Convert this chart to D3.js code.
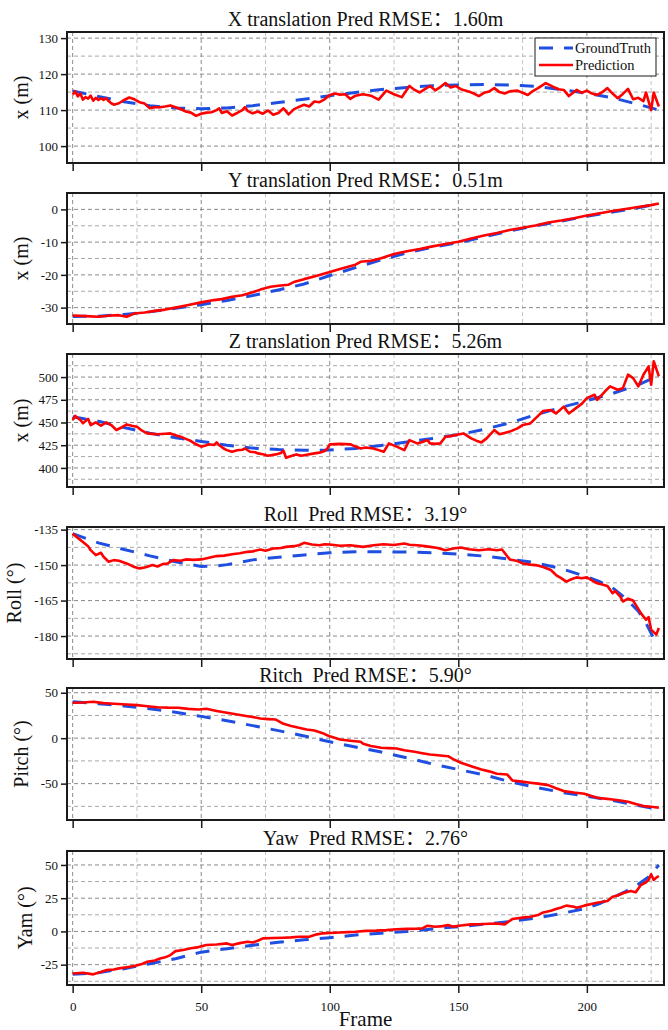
<!DOCTYPE html>
<html>
<head>
<meta charset="utf-8">
<script src="https://cdn.jsdelivr.net/npm/d3@7"></script>
<style>
    body { margin: 0; background: #fff; }
    svg text { font-family: "Liberation Serif", "Times New Roman", "Noto Sans CJK SC", serif; fill: #111; }
</style>
</head>
<body>
<div id="chart"></div>
<script>
// ---- data: [frame, value] ----
const frameTicks = [0, 50, 100, 150, 200];
const frameMinor = [25, 75, 125, 175, 225];

const xGT = [[0,115.3],[10,113.8],[20,112.3],[30,111.2],[40,110.6],[50,110.4],[60,110.6],[70,111.2],[80,112.1],[90,113.0],[100,114.0],[110,114.9],[120,115.7],[130,116.3],[140,116.8],[150,117.0],[160,117.1],[170,117.0],[180,116.6],[190,115.7],[200,114.7],[210,113.4],[220,111.6],[228,110.0]];
const xPred = [[0,114.3],[1,115.2],[2,113.8],[3,114.6],[4,112.9],[5,113.6],[6,113.2],[7,114.0],[8,112.6],[9,113.4],[10,112.8],[11,113.3],[12,112.8],[13,113.3],[14,112.5],[15,111.9],[16,111.5],[18,111.9],[20,112.8],[22,113.5],[24,113.0],[26,112.2],[28,111.8],[30,110.5],[32,110.8],[34,110.8],[36,111.0],[38,111.3],[40,110.8],[42,110.3],[44,109.6],[46,109.3],[48,108.4],[50,109.0],[52,109.3],[54,109.4],[56,110.0],[57,110.5],[58,109.2],[60,109.7],[62,108.5],[64,109.2],[66,110.0],[67,110.8],[68,109.8],[70,109.1],[72,109.6],[74,109.0],[76,109.9],[78,108.7],[80,109.2],[82,110.5],[84,108.8],[86,110.2],[88,110.9],[90,111.5],[92,111.0],[94,112.4],[96,112.2],[98,113.0],[100,114.2],[102,114.6],[104,114.3],[106,114.4],[108,113.1],[110,114.0],[113,114.4],[116,114.0],[119,112.9],[122,115.4],[125,114.4],[128,113.6],[131,116.7],[133,115.6],[135,114.9],[137,115.8],[139,116.7],[141,115.5],[143,116.4],[145,117.5],[147,116.3],[149,116.7],[151,115.8],[154,115.2],[156,114.6],[158,113.9],[160,114.8],[162,115.2],[164,116.1],[166,115.0],[168,114.6],[170,115.2],[173,115.4],[175,114.8],[177,114.2],[179,115.3],[181,116.1],[184,117.5],[186,116.8],[187,116.4],[189,115.8],[191,115.6],[193,113.9],[196,115.6],[198,114.8],[200,115.4],[202,114.6],[204,114.2],[206,115.0],[208,116.1],[210,114.6],[212,113.3],[214,114.5],[216,115.9],[218,113.0],[220,113.4],[222,112.5],[223,114.9],[225,110.0],[226,114.9],[228,111.0]];

const yGT = [[0,-32.7],[10,-32.6],[20,-32.1],[30,-31.3],[40,-30.2],[50,-29.1],[60,-27.8],[70,-26.3],[80,-24.6],[90,-22.8],[100,-20.2],[110,-17.8],[120,-15.4],[130,-13.3],[140,-11.5],[150,-10.2],[160,-8.4],[170,-6.6],[180,-5.0],[190,-3.6],[200,-2.1],[210,-0.8],[220,0.5],[228,1.7]];
const yPred = [[0,-32.4],[5,-32.6],[10,-32.8],[15,-32.4],[18,-32.3],[21,-32.8],[24,-31.8],[28,-31.5],[32,-31.0],[36,-30.6],[40,-30.0],[45,-29.2],[50,-28.4],[55,-27.7],[58,-27.4],[62,-26.7],[66,-26.2],[70,-25.3],[73,-24.5],[77,-23.6],[80,-23.3],[84,-23.0],[86,-22.2],[90,-21.3],[95,-20.3],[100,-19.1],[105,-18.0],[110,-16.9],[112,-16.0],[116,-15.7],[120,-14.9],[125,-13.6],[130,-12.8],[135,-12.1],[140,-11.3],[145,-10.6],[150,-9.9],[155,-8.9],[160,-8.0],[165,-7.2],[170,-6.3],[175,-5.6],[180,-4.9],[185,-4.0],[190,-3.4],[195,-2.7],[200,-1.9],[205,-1.2],[210,-0.5],[215,0.1],[220,0.7],[225,1.3],[228,1.8]];

const zGT = [[0,456.4],[10,451.3],[20,444.5],[30,438.3],[40,433.2],[50,429.2],[60,425.0],[70,421.8],[80,420.2],[90,419.5],[100,419.6],[110,421.5],[120,424.8],[130,428.5],[140,432.5],[150,436.5],[160,442.5],[170,449.5],[180,458.5],[190,466.6],[200,474.0],[210,482.0],[220,491.5],[228,502.0]];
const zPred = [[0,452.8],[1,457.2],[3,452.8],[4,449.1],[6,454.0],[7,447.2],[9,450.1],[11,446.4],[13,450.0],[15,447.2],[17,441.7],[19,444.5],[21,447.9],[23,446.5],[25,445.4],[27,441.0],[29,438.0],[31,437.5],[33,437.0],[36,437.6],[38,438.0],[40,436.0],[42,434.4],[44,432.0],[46,429.6],[48,426.0],[50,423.4],[52,425.0],[53,426.0],[55,425.2],[56,428.1],[57,425.0],[59,421.0],[60,419.6],[62,417.8],[64,419.4],[66,420.0],[67,421.4],[69,417.8],[71,417.3],[72,416.0],[74,415.0],[76,413.4],[78,414.5],[79,414.9],[81,416.5],[82,418.9],[83,411.2],[85,413.0],[87,414.9],[89,413.4],[91,414.5],[94,416.0],[96,416.8],[98,418.5],[99,421.0],[100,425.9],[104,426.5],[108,426.0],[110,423.5],[112,421.4],[114,422.5],[117,421.4],[119,419.6],[121,417.8],[123,427.0],[126,423.4],[129,419.6],[131,430.6],[134,427.0],[136,428.5],[138,430.6],[139,427.0],[141,426.5],[143,427.0],[145,434.3],[147,435.0],[149,436.2],[152,438.0],[155,432.5],[157,430.0],[159,428.1],[161,432.5],[164,441.7],[166,437.0],[168,438.5],[170,440.0],[173,443.5],[175,447.2],[178,449.0],[180,454.6],[183,462.7],[186,463.7],[188,460.0],[191,467.5],[193,460.0],[196,466.4],[198,470.5],[200,476.8],[203,480.5],[204,474.9],[207,484.1],[209,489.7],[212,486.0],[214,487.8],[216,502.6],[218,498.9],[220,489.7],[222,502.6],[224,511.8],[225,491.5],[226,517.4],[228,500.8]];

const rollGT = [[0,-136.7],[10,-140.6],[20,-143.4],[30,-146.1],[40,-148.6],[50,-150.6],[56,-150.4],[60,-149.8],[70,-147.8],[80,-146.7],[90,-145.7],[100,-144.8],[110,-144.4],[120,-144.4],[130,-144.5],[140,-144.8],[150,-145.3],[160,-146.2],[170,-147.5],[180,-149.0],[190,-151.5],[200,-154.9],[205,-157.0],[210,-159.6],[215,-164.0],[220,-169.5],[223,-174.5],[226,-181.0],[228,-184.0]];
const rollPred = [[0,-136.7],[2,-138.5],[4,-140.2],[6,-142.0],[7,-143.7],[9,-145.8],[11,-144.8],[12,-146.5],[14,-148.6],[16,-147.9],[18,-148.2],[21,-149.3],[24,-150.8],[26,-151.4],[28,-151.0],[29,-150.7],[31,-150.0],[33,-150.6],[35,-149.6],[37,-149.3],[39,-147.9],[42,-148.2],[44,-147.6],[47,-147.8],[50,-147.6],[53,-146.9],[56,-146.2],[59,-146.0],[62,-145.4],[65,-145.0],[68,-144.4],[70,-144.2],[73,-143.4],[75,-143.9],[78,-143.0],[81,-142.8],[83,-142.3],[86,-142.0],[88,-141.6],[90,-140.6],[93,-141.3],[96,-141.6],[98,-141.2],[100,-141.3],[104,-141.8],[108,-141.6],[113,-142.3],[117,-141.6],[121,-141.2],[125,-141.5],[129,-140.9],[131,-141.4],[134,-141.6],[137,-142.0],[139,-142.3],[142,-142.8],[145,-143.7],[148,-143.0],[151,-142.6],[154,-143.3],[158,-143.7],[162,-143.3],[165,-143.7],[167,-143.4],[170,-147.6],[173,-148.3],[175,-149.3],[178,-149.8],[180,-150.0],[183,-150.8],[186,-152.1],[188,-154.2],[190,-155.5],[192,-157.0],[194,-156.0],[196,-155.2],[198,-155.6],[200,-155.2],[202,-156.5],[204,-157.7],[206,-158.2],[208,-158.8],[210,-161.9],[211,-161.0],[213,-163.3],[214,-165.4],[216,-164.2],[218,-165.0],[220,-168.5],[221,-170.3],[223,-173.1],[224,-172.0],[225,-177.3],[227,-179.4],[228,-176.6]];

const pitchGT = [[0,40.0],[10,38.0],[20,35.5],[30,32.3],[40,28.5],[50,24.0],[60,19.2],[70,13.8],[80,8.3],[90,2.5],[100,-4.0],[110,-9.7],[120,-15.3],[130,-21.6],[140,-28.4],[150,-34.5],[160,-40.3],[170,-47.8],[180,-53.9],[190,-59.5],[200,-63.8],[210,-68.6],[220,-74.0],[228,-78.5]];
const pitchPred = [[0,38.9],[4,39.3],[8,40.0],[12,38.6],[16,37.8],[21,37.0],[25,36.4],[29,35.2],[33,34.1],[37,33.6],[41,33.4],[45,32.2],[49,31.6],[52,32.3],[56,30.0],[60,27.9],[64,26.0],[68,24.2],[70,23.3],[73,21.6],[76,21.0],[79,20.5],[82,15.8],[85,13.5],[88,11.4],[91,9.5],[94,8.5],[97,5.8],[99,3.2],[100,2.2],[104,-1.4],[108,-2.8],[112,-4.0],[113,-6.2],[116,-8.5],[120,-10.5],[123,-10.9],[126,-11.3],[129,-13.2],[133,-15.0],[136,-16.5],[139,-17.9],[142,-18.8],[146,-19.8],[148,-23.0],[151,-27.0],[155,-30.8],[159,-34.4],[162,-36.5],[165,-39.1],[169,-39.9],[171,-46.5],[174,-47.5],[178,-49.0],[181,-50.0],[185,-51.6],[188,-55.0],[191,-58.2],[195,-59.8],[199,-61.1],[204,-65.5],[207,-66.5],[210,-67.4],[213,-68.5],[216,-69.9],[219,-72.5],[222,-74.7],[225,-75.5],[228,-76.5]];

const yawGT = [[0,-32.3],[10,-31.0],[20,-28.0],[30,-24.3],[40,-20.5],[50,-15.6],[60,-13.0],[70,-10.4],[80,-8.2],[90,-6.3],[100,-4.7],[110,-2.7],[120,-1.3],[130,0.0],[140,1.9],[150,3.6],[160,5.4],[170,7.5],[180,10.0],[190,13.4],[200,17.5],[205,21.0],[210,25.5],[215,30.0],[220,35.5],[224,41.0],[228,50.0]];
const yawPred = [[0,-31.6],[4,-31.1],[8,-32.3],[11,-30.5],[13,-29.1],[16,-28.6],[18,-27.8],[21,-27.0],[24,-26.0],[27,-24.5],[29,-22.8],[32,-21.8],[34,-20.3],[36,-19.5],[38,-17.8],[40,-14.8],[43,-14.0],[46,-12.7],[49,-11.8],[52,-10.2],[56,-9.8],[60,-9.0],[62,-10.2],[65,-8.8],[68,-7.8],[70,-8.3],[72,-7.0],[74,-5.2],[78,-5.0],[82,-4.7],[85,-4.5],[88,-4.0],[92,-4.0],[95,-2.2],[97,-1.5],[100,-1.2],[104,-0.8],[107,-0.5],[110,-0.2],[114,0.4],[118,0.6],[122,1.0],[126,1.6],[130,1.9],[134,2.1],[136,2.3],[138,4.3],[141,3.5],[144,4.0],[146,4.8],[148,3.6],[151,4.5],[155,5.3],[158,5.4],[162,5.8],[165,6.0],[168,5.3],[171,9.3],[175,10.4],[178,11.1],[181,12.3],[183,14.3],[186,15.5],[188,16.9],[190,18.0],[192,19.4],[195,18.5],[196,17.8],[199,19.4],[203,21.2],[205,22.0],[208,22.9],[210,26.1],[212,27.0],[214,28.7],[217,30.4],[219,29.5],[221,34.9],[223,37.0],[224,38.7],[225,43.0],[226,38.7],[227,40.5],[228,41.7]];

// axis ticks for each panel
const xTicks = [100, 110, 120, 130],          xMinor = [105, 115, 125];
const yTicks = [-30, -20, -10, 0],            yMinor = [-25, -15, -5];
const zTicks = [400, 425, 450, 475, 500],     zMinor = [387.5, 412.5, 437.5, 462.5, 487.5, 512.5];
const rollTicks = [-180, -165, -150, -135],   rollMinor = [-187.5, -172.5, -157.5, -142.5];
const pitchTicks = [-50, 0, 50],              pitchMinor = [-75, -25, 25];
const yawTicks = [-25, 0, 25, 50],            yawMinor = [-37.5, -12.5, 12.5, 37.5];

const titles = [
    "X translation Pred RMSE：1.60m",
    "Y translation Pred RMSE：0.51m",
    "Z translation Pred RMSE：5.26m",
    "Roll  Pred RMSE：3.19°",
    "Ritch  Pred RMSE：5.90°",
    "Yaw  Pred RMSE：2.76°"
];
const yLabels = ["x (m)", "x (m)", "x (m)", "Roll (°)", "Pitch (°)", "Yam (°)"];
const seriesNames = ["GroundTruth", "Prediction"];

const GT_COLOR = "#1f4fe0";
const PRED_COLOR = "#ff0000";

// layout per panel (pixels)
const panels = [
    { gt: xGT, pred: xPred, ticks: xTicks, minor: xMinor, domain: [95.3, 131.7], top: 32, bottom: 163, labelX: 28, legend: true },
    { gt: yGT, pred: yPred, ticks: yTicks, minor: yMinor, domain: [-35, 5], top: 193, bottom: 324, labelX: 28 },
    { gt: zGT, pred: zPred, ticks: zTicks, minor: zMinor, domain: [379, 525.4], top: 354, bottom: 487, labelX: 28 },
    { gt: rollGT, pred: rollPred, ticks: rollTicks, minor: rollMinor, domain: [-189.7, -133.9], top: 527, bottom: 659, labelX: 21 },
    { gt: pitchGT, pred: pitchPred, ticks: pitchTicks, minor: pitchMinor, domain: [-90, 55.2], top: 688, bottom: 820, labelX: 28 },
    { gt: yawGT, pred: yawPred, ticks: yawTicks, minor: yawMinor, domain: [-40.3, 60.5], top: 851, bottom: 985, labelX: 32, frameLabels: true }
];
panels.forEach((p, i) => { p.title = titles[i]; p.yLabel = yLabels[i]; });

const svg = d3.select("#chart").append("svg")
    .attr("width", 668)
    .attr("height", 1030);

const x = d3.scaleLinear()
    .domain([-2.2, 230])
    .range([67, 664]);

class PosePanel {
    constructor(_svg, _cfg) {
        this.svg = _svg;
        this.cfg = _cfg;
        this.initVis();
    }

    initVis() {
        let vis = this;
        let c = vis.cfg;

        vis.g = vis.svg.append("g");
        vis.y = d3.scaleLinear()
            .domain(c.domain)
            .range([c.bottom, c.top]);

        // grid: minor first, major on top
        vis.g.selectAll(".vminor").data(frameMinor).enter().append("line")
            .attr("x1", d => x(d)).attr("x2", d => x(d))
            .attr("y1", c.top).attr("y2", c.bottom)
            .attr("stroke", "#c4c4c4").attr("stroke-width", 1).attr("stroke-dasharray", "4,3");
        vis.g.selectAll(".hminor").data(c.minor).enter().append("line")
            .attr("x1", 67).attr("x2", 664)
            .attr("y1", d => vis.y(d)).attr("y2", d => vis.y(d))
            .attr("stroke", "#a8a8a8").attr("stroke-width", 1).attr("stroke-dasharray", "4,3");
        vis.g.selectAll(".vmajor").data(frameTicks).enter().append("line")
            .attr("x1", d => x(d)).attr("x2", d => x(d))
            .attr("y1", c.top).attr("y2", c.bottom)
            .attr("stroke", "#8a8a8a").attr("stroke-width", 1).attr("stroke-dasharray", "4,3");
        vis.g.selectAll(".hmajor").data(c.ticks).enter().append("line")
            .attr("x1", 67).attr("x2", 664)
            .attr("y1", d => vis.y(d)).attr("y2", d => vis.y(d))
            .attr("stroke", "#8a8a8a").attr("stroke-width", 1).attr("stroke-dasharray", "4,3");

        let line = d3.line()
            .x(d => x(d[0]))
            .y(d => vis.y(d[1]))
            .curve(d3.curveLinear);

        vis.g.append("path").datum(c.gt)
            .attr("d", line)
            .attr("fill", "none")
            .attr("stroke", GT_COLOR)
            .attr("stroke-width", 3)
            .attr("stroke-dasharray", "14,11");

        vis.g.append("path").datum(c.pred)
            .attr("d", line)
            .attr("fill", "none")
            .attr("stroke", PRED_COLOR)
            .attr("stroke-width", 2.6)
            .attr("stroke-linejoin", "round");

        // frame
        vis.g.append("rect")
            .attr("x", 67).attr("y", c.top)
            .attr("width", 664 - 67).attr("height", c.bottom - c.top)
            .attr("fill", "none").attr("stroke", "#1a1a1a").attr("stroke-width", 2);

        // y axis ticks + labels
        let yAxis = d3.axisLeft(vis.y).tickValues(c.ticks).tickSize(6).tickPadding(3)
            .tickFormat(d3.format("d"));
        let ya = vis.g.append("g").attr("transform", "translate(67,0)").call(yAxis);
        ya.select(".domain").remove();
        ya.selectAll(".tick line").attr("stroke", "#1a1a1a").attr("stroke-width", 1.5);
        ya.selectAll(".tick text")
            .attr("font-size", 13)
            .attr("font-family", "Liberation Serif, serif")
            .attr("fill", "#111")
            .text(d => String(d));

        // x axis ticks (labels only on the last panel)
        let xAxis = d3.axisBottom(x).tickValues(frameTicks).tickSize(8).tickPadding(9)
            .tickFormat(c.frameLabels ? d3.format("d") : "");
        let xa = vis.g.append("g").attr("transform", `translate(0,${c.bottom})`).call(xAxis);
        xa.select(".domain").remove();
        xa.selectAll(".tick line").attr("stroke", "#1a1a1a").attr("stroke-width", 1.5);
        xa.selectAll(".tick text")
            .attr("font-size", 13)
            .attr("font-family", "Liberation Serif, serif")
            .attr("fill", "#111");

        // title
        vis.g.append("text")
            .attr("x", (67 + 664) / 2)
            .attr("y", c.top - 6)
            .attr("text-anchor", "middle")
            .attr("font-size", 20)
            .style("white-space", "pre")
            .text(c.title);

        // y label
        vis.g.append("text")
            .attr("transform", `translate(${c.labelX},${(c.top + c.bottom) / 2}) rotate(-90)`)
            .attr("text-anchor", "middle")
            .attr("font-size", 20)
            .text(c.yLabel);

        if (c.legend) vis.drawLegend();
    }

    drawLegend() {
        let vis = this;
        let lg = vis.g.append("g").attr("transform", "translate(535,38)");
        lg.append("rect")
            .attr("width", 121).attr("height", 38)
            .attr("fill", "#fff").attr("stroke", "#1a1a1a").attr("stroke-width", 1);
        seriesNames.forEach((name, i) => {
            let yy = 10 + i * 17;
            lg.append("line")
                .attr("x1", 4).attr("x2", 38).attr("y1", yy).attr("y2", yy)
                .attr("stroke", i === 0 ? GT_COLOR : PRED_COLOR)
                .attr("stroke-width", i === 0 ? 3 : 2.6)
                .attr("stroke-dasharray", i === 0 ? "14,11" : null);
            lg.append("text")
                .attr("x", 40).attr("y", yy + 5)
                .attr("font-size", 14.5)
                .text(name);
        });
    }
}

panels.forEach(p => new PosePanel(svg, p));

// bottom x label
svg.append("text")
    .attr("x", (67 + 664) / 2)
    .attr("y", 1026)
    .attr("text-anchor", "middle")
    .attr("font-size", 21)
    .text("Frame");
</script>
</body>
</html>
